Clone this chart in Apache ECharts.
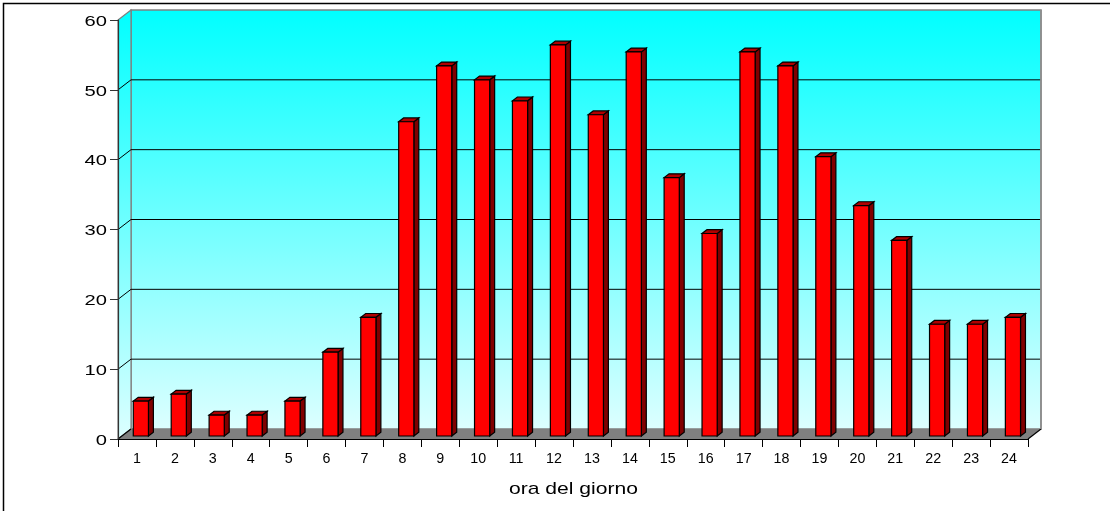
<!DOCTYPE html>
<html>
<head>
<meta charset="utf-8">
<script src="https://cdn.jsdelivr.net/npm/echarts@6/dist/echarts.min.js"></script>
<style>
html,body{margin:0;padding:0;background:#fff;}
#chart{width:1110px;height:511px;}
</style>
</head>
<body>
<div id="chart"></div>
<script>
const hours = ['1','2','3','4','5','6','7','8','9','10','11','12','13','14','15','16','17','18','19','20','21','22','23','24'];
const counts = [5,6,3,3,5,12,17,45,53,51,48,56,46,55,37,29,55,53,40,33,28,16,16,17];
const yTicks = [0,10,20,30,40,50,60];
const axisTitle = 'ora del giorno';

const DX = 13, DY = -10;
const FONT = '"Liberation Sans", Arial, sans-serif';

function renderWalls(params, api) {
  const cs = params.coordSys;
  const L = cs.x, R = cs.x + cs.width;
  const y0 = api.coord([0, 0])[1];
  const yTop = api.coord([0, 60])[1];
  const children = [];
  const grad = new echarts.graphic.LinearGradient(0, 0, 0, 1, [
    {offset: 0, color: '#00ffff'}, {offset: 1, color: '#ddffff'}
  ]);
  children.push({type: 'rect', shape: {x: L + DX, y: yTop + DY, width: R - L, height: y0 - yTop},
    style: {fill: grad, stroke: '#808080', lineWidth: 1.6}});
  children.push({type: 'polygon', shape: {points: [[L, yTop], [L + DX, yTop + DY], [L + DX, y0 + DY], [L, y0]]},
    style: {fill: grad, stroke: '#808080', lineWidth: 1.2}});
  yTicks.forEach(function (t) {
    if (t === 0 || t === 60) return;
    const y = api.coord([0, t])[1];
    children.push({type: 'polyline', shape: {points: [[L, y], [L + DX, y + DY], [R + DX, y + DY]]},
      style: {stroke: '#000', lineWidth: 1, fill: null}});
  });
  children.push({type: 'polygon', shape: {points: [[L, y0], [L + DX, y0 + DY], [R + DX, y0 + DY], [R, y0]]},
    style: {fill: '#808080', stroke: null}});
  children.push({type: 'line', shape: {x1: L, y1: y0, x2: L + DX, y2: y0 + DY}, style: {stroke: '#000', lineWidth: 1.2}});
  children.push({type: 'line', shape: {x1: R, y1: y0, x2: R + DX, y2: y0 + DY}, style: {stroke: '#000', lineWidth: 1.2}});
  children.push({type: 'line', shape: {x1: R + DX, y1: y0 + DY, x2: R + DX, y2: yTop + DY}, style: {stroke: '#909090', lineWidth: 1.8}});
  // axis title
  children.push({type: 'text', x: L + cs.width / 2 + 0.5, y: y0 + 50, scaleX: 1.24,
    style: {text: axisTitle, fontSize: 17, fontFamily: FONT, fill: '#000', align: 'center', verticalAlign: 'middle'}});
  return {type: 'group', children: children};
}

function renderBar(params, api) {
  const idx = api.value(0), v = api.value(1);
  const base = api.coord([idx, 0]);
  const top = api.coord([idx, v]);
  const band = api.size([1, 0])[0];
  const w = band * 0.4;
  const ox = DX * 0.3, oy = DY * 0.3;
  const bx = DX * 0.38, by = DY * 0.38;
  const x0 = base[0] - w / 2 + ox, x1 = x0 + w;
  const yb = base[1] + oy, yt = top[1] + oy;
  const st = {stroke: '#000', lineWidth: 1.2, lineJoin: 'miter'};
  return {type: 'group', children: [
    {type: 'polygon', shape: {points: [[x1, yb], [x1 + bx, yb + by], [x1 + bx, yt + by], [x1, yt]]},
      style: Object.assign({fill: '#800000'}, st)},
    {type: 'polygon', shape: {points: [[x0, yt], [x1, yt], [x1 + bx, yt + by], [x0 + bx, yt + by]]},
      style: Object.assign({fill: '#b00000'}, st)},
    {type: 'rect', shape: {x: x0, y: yt, width: w, height: yb - yt},
      style: Object.assign({fill: '#ff0000'}, st)}
  ]};
}

function renderXLabel(params, api) {
  const idx = api.value(0);
  const p = api.coord([idx, 0]);
  return {type: 'text', x: p[0], y: p[1] + 20, scaleX: 0.92,
    style: {text: hours[params.dataIndex], fontSize: 15.5, fontFamily: FONT, fill: '#000', align: 'center', verticalAlign: 'middle'}};
}

function renderYLabel(params, api) {
  const t = api.value(1);
  const p = api.coord([0, t]);
  return {type: 'text', x: params.coordSys.x - 11, y: p[1] + 1.5, scaleX: 1.3,
    style: {text: String(yTicks[params.dataIndex]), fontSize: 15.5, fontFamily: FONT, fill: '#000', align: 'right', verticalAlign: 'middle'}};
}

const chart = echarts.init(document.getElementById('chart'), null, {renderer: 'canvas'});
chart.setOption({
  animation: false,
  backgroundColor: '#fff',
  grid: {left: 118, right: 82, top: 20, bottom: 72},
  xAxis: {
    type: 'category', data: hours, boundaryGap: true,
    axisLine: {show: true, onZero: false, lineStyle: {color: '#000', width: 1.2}},
    axisTick: {show: true, interval: 0, length: 8, lineStyle: {color: '#000'}},
    axisLabel: {show: false},
    splitLine: {show: false}, z: 5
  },
  yAxis: {
    type: 'value', min: 0, max: 60, interval: 10,
    axisLine: {show: true, lineStyle: {color: '#333', width: 1.2}},
    axisTick: {show: true, length: 8, lineStyle: {color: '#333'}},
    axisLabel: {show: false},
    splitLine: {show: false}, z: 5
  },
  series: [
    {type: 'custom', renderItem: renderWalls, data: [[0, 0]], z: 1, silent: true, clip: false},
    {type: 'custom', renderItem: renderBar, data: counts.map(function (c, i) { return [i, c]; }), z: 3, clip: false},
    {type: 'custom', renderItem: renderXLabel, data: hours.map(function (h, i) { return [i, 0]; }), z: 6, silent: true, clip: false},
    {type: 'custom', renderItem: renderYLabel, data: yTicks.map(function (t) { return [0, t]; }), z: 6, silent: true, clip: false}
  ],
  graphic: [
    {type: 'rect', shape: {x: 3.5, y: 3.5, width: 1300, height: 700}, style: {fill: null, stroke: '#000', lineWidth: 1.5}, z: 10}
  ]
});
</script>
</body>
</html>
